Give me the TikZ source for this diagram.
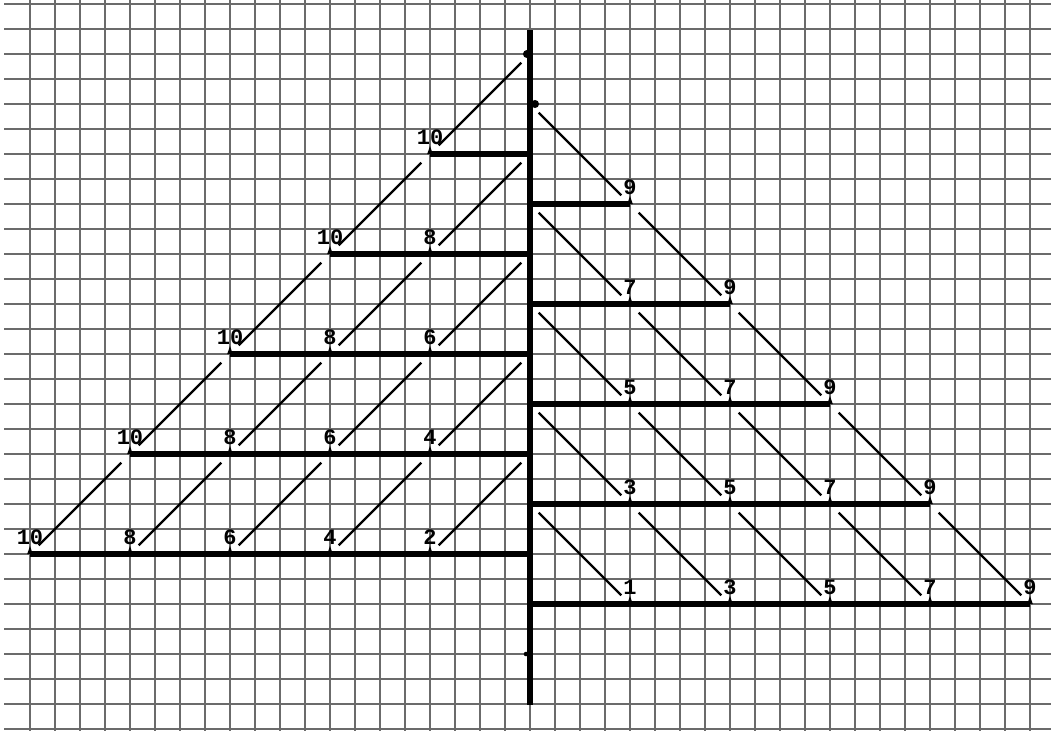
\documentclass[tikz,border=0pt]{standalone}
\usepackage{fontspec}
\newfontfamily\labfont{Liberation Mono}
\begin{document}
\begin{tikzpicture}[x=0.02cm,y=-0.02cm,
  gridline/.style={black!58,line width=0.7pt},
  bar/.style={line width=3pt},
  axisline/.style={line width=3.3pt},
  diag/.style={line width=1.3pt,shorten <=7pt,shorten >=7pt},
  lab/.style={font=\labfont\bfseries\fontsize{12.5}{12.5}\selectfont,inner sep=0pt,anchor=south}]
\useasboundingbox (0,0) rectangle (1051,731);
\fill[white] (0,0) rectangle (1051,731);
% graph paper
\foreach \k in {1,...,41} \draw[gridline] ({5+25*\k},0) -- ({5+25*\k},731);
\foreach \k in {0,...,29} \draw[gridline] (4,{4+25*\k}) -- (1051,{4+25*\k});
% axis
\coordinate (axtop) at (530,30);
\coordinate (axbot) at (530,705);
\draw[axisline] (axtop) -- (axbot);
\coordinate (LA5) at (530,54);
\coordinate (RA5) at (530,104);
\fill (527,54) circle (2.3pt);
\fill (535,104) circle (2.3pt);
\fill (526,654) circle (1.3pt);
% left bars (even)
\foreach \j in {0,...,4} {
  \coordinate (LA\j) at (530,{554-100*\j});
  \coordinate (LS\j) at ({30+100*\j},{554-100*\j});
  \draw[bar] (LS\j) -- (LA\j);
  \foreach \i in {\j,...,4} {
    \pgfmathtruncatemacro\v{10-2*(\i-\j)}
    \coordinate (L\j-\i) at ({30+100*\i},{554-100*\j});
    \fill (L\j-\i) ++(-2.8,0) -- ++(5.6,0) -- ++(-2.8,-8) -- cycle;
    \node[lab] (Ln\j-\i) at ({30+100*\i},{545-100*\j}) {\v};
  }
}
% right bars (odd)
\foreach \j in {0,...,4} {
  \coordinate (RA\j) at (530,{604-100*\j});
  \coordinate (RE\j) at ({1030-100*\j},{604-100*\j});
  \draw[bar] (RA\j) -- (RE\j);
  \pgfmathtruncatemacro\last{4-\j}
  \foreach \i in {0,...,\last} {
    \pgfmathtruncatemacro\v{1+2*\j+2*\i}
    \coordinate (R\j-\i) at ({630+100*\i},{604-100*\j});
    \fill (R\j-\i) ++(-2.8,0) -- ++(5.6,0) -- ++(-2.8,-8) -- cycle;
    \node[lab] (Rn\j-\i) at ({630+100*\i},{595-100*\j}) {\v};
  }
}
% left diagonals
\foreach \j in {0,...,4} {
  \pgfmathtruncatemacro\up{\j+1}
  \foreach \i in {\j,...,4} {
    \pgfmathtruncatemacro\nx{\i+1}
    \ifnum\i=4
      \draw[diag] (L\j-\i) -- (LA\up);
    \else
      \draw[diag] (L\j-\i) -- (L\up-\nx);
    \fi
  }
}
% right diagonals
\foreach \j in {0,...,4} {
  \pgfmathtruncatemacro\up{\j+1}
  \draw[diag] (RA\up) -- (R\j-0);
}
\foreach \j in {0,...,3} {
  \pgfmathtruncatemacro\up{\j+1}
  \pgfmathtruncatemacro\last{3-\j}
  \foreach \i in {0,...,\last} {
    \pgfmathtruncatemacro\nx{\i+1}
    \draw[diag] (R\up-\i) -- (R\j-\nx);
  }
}
\end{tikzpicture}
\end{document}
